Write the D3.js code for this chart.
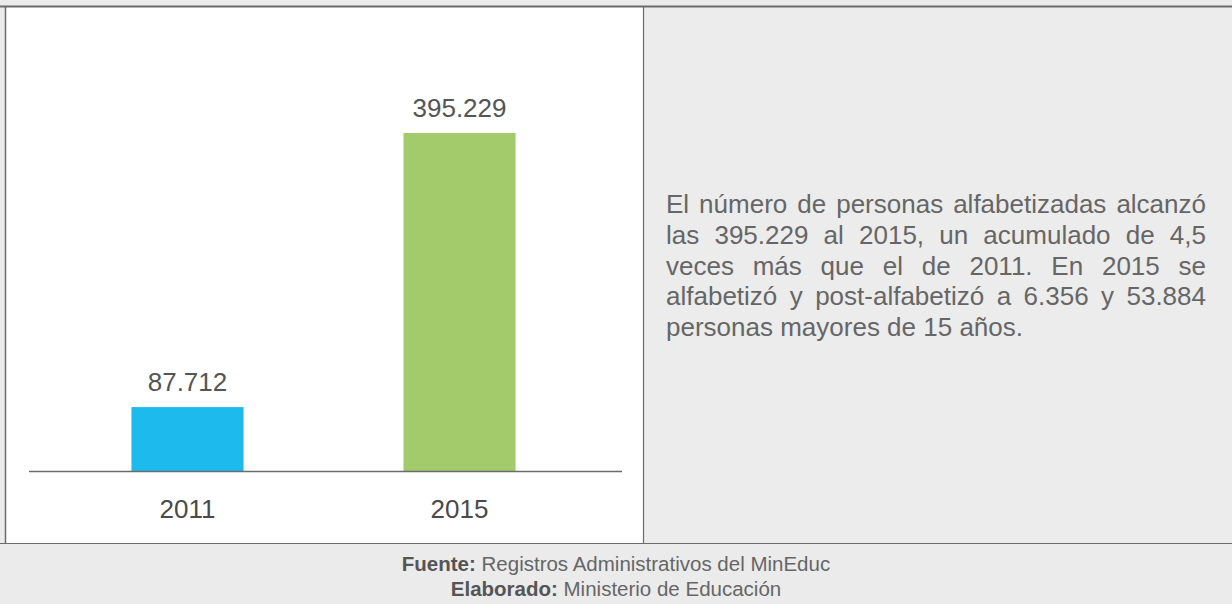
<!DOCTYPE html>
<html>
<head>
<meta charset="utf-8">
<script src="https://cdn.jsdelivr.net/npm/d3@7"></script>
<style>
  html, body { margin: 0; padding: 0; background: #fff; }
  svg { display: block; font-family: "Liberation Sans", Arial, Helvetica, sans-serif; }
</style>
</head>
<body>
<svg id="chart"></svg>
<script>
// data
const years = ["2011", "2015"];
const alfabetizados = [87712, 395229];
const barColors = ["#1dbbed", "#a3cb6c"];
const yMin = 16000; // the drawn bars do not start at zero

const noteLines = [
    "El número de personas alfabetizadas alcanzó",
    "las 395.229 al 2015, un acumulado de 4,5",
    "veces más que el de 2011. En 2015 se",
    "alfabetizó y post-alfabetizó a 6.356 y 53.884",
    "personas mayores de 15 años."
];
const sourceLabels = ["Fuente:", "Elaborado:"];
const sourceTexts = ["Registros Administrativos del MinEduc", "Ministerio de Educación"];

const W = 1232, H = 604;
const frame = { top: 7, left: 5, divider: 643, footer: 543 };

const fmt = d3.formatLocale({ decimal: ",", thousands: ".", grouping: [3], currency: ["$", ""] }).format(",d");

const svg = d3.select("#chart").attr("width", W).attr("height", H);

// background panels
svg.append("rect").attr("width", W).attr("height", H).attr("fill", "#ebebeb");
svg.append("rect")
    .attr("x", frame.left).attr("y", frame.top)
    .attr("width", frame.divider - frame.left).attr("height", frame.footer - frame.top)
    .attr("fill", "#fff");
svg.append("rect")
    .attr("x", frame.divider).attr("y", frame.top)
    .attr("width", W - frame.divider).attr("height", frame.footer - frame.top)
    .attr("fill", "#ececec");

// frame lines
const lines = svg.append("g").attr("stroke", "#6b6b6b").attr("fill", "none");
lines.append("line").attr("x1", 0).attr("x2", W).attr("y1", frame.top - 0.5).attr("y2", frame.top - 0.5).attr("stroke-width", 2);
lines.append("line").attr("x1", frame.left + 0.5).attr("x2", frame.left + 0.5).attr("y1", frame.top).attr("y2", frame.footer).attr("stroke-width", 1.5);
lines.append("line").attr("x1", frame.divider + 0.5).attr("x2", frame.divider + 0.5).attr("y1", frame.top).attr("y2", frame.footer).attr("stroke-width", 1.2);
lines.append("line").attr("x1", 0).attr("x2", W).attr("y1", frame.footer + 0.5).attr("y2", frame.footer + 0.5).attr("stroke-width", 1.2);

// bar chart
const plot = { left: 29, right: 622, top: 133, bottom: 471 };

const xScale = d3.scaleBand()
    .domain(years)
    .range([plot.left - 2, plot.right - 2])
    .paddingInner(0.588)
    .paddingOuter(0.384);

const yScale = d3.scaleLinear()
    .domain([yMin, d3.max(alfabetizados)])
    .range([plot.bottom, plot.top]);

const data = years.map((y, i) => ({ year: y, value: alfabetizados[i], color: barColors[i] }));

svg.append("g").selectAll("rect")
    .data(data)
    .join("rect")
    .attr("x", d => xScale(d.year))
    .attr("y", d => yScale(d.value))
    .attr("width", xScale.bandwidth())
    .attr("height", d => plot.bottom - yScale(d.value))
    .attr("fill", d => d.color);

svg.append("g").selectAll("text")
    .data(data)
    .join("text")
    .attr("x", d => xScale(d.year) + xScale.bandwidth() / 2)
    .attr("y", d => yScale(d.value) - 16)
    .attr("text-anchor", "middle")
    .attr("font-size", 26)
    .attr("fill", "#555")
    .text(d => fmt(d.value));

// x axis: baseline and year labels
const xAxis = svg.append("g").attr("transform", `translate(0, ${plot.bottom})`);
xAxis.append("line")
    .attr("x1", plot.left).attr("x2", plot.right)
    .attr("y1", 0.5).attr("y2", 0.5)
    .attr("stroke", "#6b6b6b").attr("stroke-width", 1.3);
xAxis.selectAll("text.year")
    .data(years)
    .join("text")
    .attr("class", "year")
    .attr("x", d => xScale(d) + xScale.bandwidth() / 2)
    .attr("y", 47)
    .attr("text-anchor", "middle")
    .attr("font-size", 26)
    .attr("fill", "#4a4a4a")
    .text(d => d);

// justified note in the right panel
const note = { left: 666, right: 1206, top: 213, lineHeight: 30.8 };
const noteG = svg.append("g")
    .attr("font-size", 26)
    .attr("fill", "#666");

noteLines.forEach((line, i) => {
    const y = note.top + i * note.lineHeight;
    const words = line.split(" ");
    if (i === noteLines.length - 1) {
        noteG.append("text").attr("x", note.left).attr("y", y).text(line);
        return;
    }
    const nodes = words.map(w => noteG.append("text").attr("y", y).text(w));
    const widths = nodes.map(n => n.node().getComputedTextLength());
    const gap = (note.right - note.left - d3.sum(widths)) / (words.length - 1);
    let x = note.left;
    nodes.forEach((n, j) => {
        n.attr("x", x);
        x += widths[j] + gap;
    });
});

// source footer
const foot = svg.append("g").attr("font-size", 20.5);
sourceLabels.forEach((label, i) => {
    const t = foot.append("text")
        .attr("x", W / 2)
        .attr("y", 571 + i * 25)
        .attr("text-anchor", "middle");
    t.append("tspan").attr("font-weight", "bold").attr("fill", "#555").text(label + " ");
    t.append("tspan").attr("fill", "#666").text(sourceTexts[i]);
});
</script>
</body>
</html>
